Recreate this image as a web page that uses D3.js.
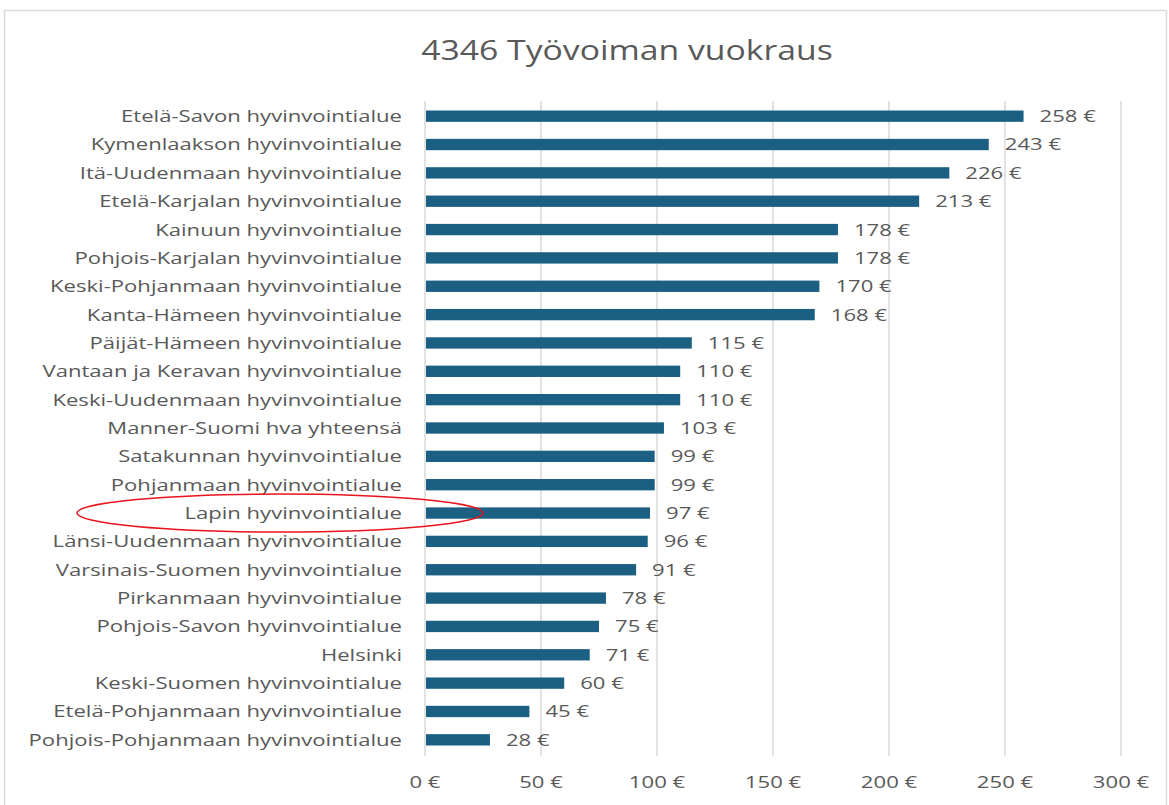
<!DOCTYPE html>
<html>
<head>
<meta charset="utf-8">
<script src="https://cdn.jsdelivr.net/npm/d3@7"></script>
<style>
  body { margin: 0; background: #fff; }
  text { font-family: "Open Sans", "Liberation Sans", sans-serif; }
</style>
</head>
<body>
<div id="chart"></div>
<script>
const regions = [
  "Etelä-Savon hyvinvointialue",
  "Kymenlaakson hyvinvointialue",
  "Itä-Uudenmaan hyvinvointialue",
  "Etelä-Karjalan hyvinvointialue",
  "Kainuun hyvinvointialue",
  "Pohjois-Karjalan hyvinvointialue",
  "Keski-Pohjanmaan hyvinvointialue",
  "Kanta-Hämeen hyvinvointialue",
  "Päijät-Hämeen hyvinvointialue",
  "Vantaan ja Keravan hyvinvointialue",
  "Keski-Uudenmaan hyvinvointialue",
  "Manner-Suomi hva yhteensä",
  "Satakunnan hyvinvointialue",
  "Pohjanmaan hyvinvointialue",
  "Lapin hyvinvointialue",
  "Länsi-Uudenmaan hyvinvointialue",
  "Varsinais-Suomen hyvinvointialue",
  "Pirkanmaan hyvinvointialue",
  "Pohjois-Savon hyvinvointialue",
  "Helsinki",
  "Keski-Suomen hyvinvointialue",
  "Etelä-Pohjanmaan hyvinvointialue",
  "Pohjois-Pohjanmaan hyvinvointialue"
];
const values = [258, 243, 226, 213, 178, 178, 170, 168, 115, 110, 110, 103, 99, 99, 97, 96, 91, 78, 75, 71, 60, 45, 28];
const xTicks = [0, 50, 100, 150, 200, 250, 300];
const highlighted = "Lapin hyvinvointialue";

const width = 1169, height = 805;
const barColor = "#1b5f83";
const textColor = "#595959";
const stretch = 1.3; // the source picture is stretched sideways

const svg = d3.select("#chart").append("svg")
    .attr("width", width)
    .attr("height", height);

// chart area border
svg.append("rect")
    .attr("x", 4.5)
    .attr("y", 10.5)
    .attr("width", 1162)
    .attr("height", 800)
    .attr("fill", "#fff")
    .attr("stroke", "#d9d9d9")
    .attr("stroke-width", 1.5);

svg.append("text")
    .attr("transform", "translate(627,60) scale(1.25,1)")
    .attr("text-anchor", "middle")
    .attr("font-size", 27)
    .attr("fill", textColor)
    .text("4346 Työvoiman vuokraus");

const x = d3.scaleLinear().domain([0, 300]).range([425, 1121]);
const y = d3.scaleBand().domain(regions).range([102, 754]).paddingInner(0.6).paddingOuter(0.3);
const yMid = d => y(d) + y.bandwidth() / 2;

// gridlines
svg.append("g")
  .selectAll("line")
  .data(xTicks)
  .join("line")
    .attr("x1", d => x(d))
    .attr("x2", d => x(d))
    .attr("y1", 101)
    .attr("y2", 756)
    .attr("stroke", "#d9d9d9")
    .attr("stroke-width", 1.5);

// x tick labels
svg.append("g")
  .selectAll("text")
  .data(xTicks)
  .join("text")
    .attr("transform", d => `translate(${x(d)},788) scale(${stretch},1)`)
    .attr("text-anchor", "middle")
    .attr("font-size", 17)
    .attr("fill", textColor)
    .text(d => d + " €");

// bars
svg.append("g")
  .selectAll("rect")
  .data(values)
  .join("rect")
    .attr("x", x(0) + 1)
    .attr("y", (d, i) => y(regions[i]))
    .attr("width", d => x(d) - x(0) - 1)
    .attr("height", y.bandwidth())
    .attr("fill", barColor);

// value labels
svg.append("g")
  .selectAll("text")
  .data(values)
  .join("text")
    .attr("transform", (d, i) => `translate(${x(d) + 16},${yMid(regions[i])}) scale(${stretch},1)`)
    .attr("dy", "0.35em")
    .attr("font-size", 17)
    .attr("fill", textColor)
    .text(d => d + " €");

// category labels
svg.append("g")
  .selectAll("text")
  .data(regions)
  .join("text")
    .attr("transform", d => `translate(402,${yMid(d)}) scale(${stretch},1)`)
    .attr("dy", "0.35em")
    .attr("text-anchor", "end")
    .attr("font-size", 17)
    .attr("fill", textColor)
    .text(d => d);

// red ellipse around Lapin
svg.append("ellipse")
    .attr("cx", 280)
    .attr("cy", yMid(highlighted))
    .attr("rx", 203)
    .attr("ry", 19)
    .attr("fill", "none")
    .attr("stroke", "#e8141b")
    .attr("stroke-width", 1.5);
</script>
</body>
</html>
